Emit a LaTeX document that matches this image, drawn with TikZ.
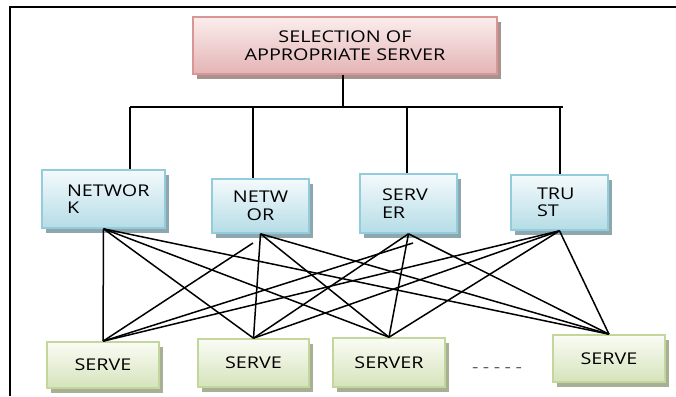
\documentclass[tikz,border=0pt]{standalone}
\usepackage{fontspec}
\setmainfont{Open Sans}[FakeStretch=1.22]
\usetikzlibrary{shadows}
\definecolor{pinkline}{HTML}{D99694}
\definecolor{pinktop}{HTML}{FBEDED}
\definecolor{pinkbot}{HTML}{E4B4B5}
\definecolor{pinkshadow}{HTML}{A8928F}
\definecolor{blueline}{HTML}{93CDDD}
\definecolor{bluetop}{HTML}{F4FAFC}
\definecolor{bluebot}{HTML}{B5DCE6}
\definecolor{blueshadow}{HTML}{8EA6AD}
\definecolor{greenline}{HTML}{C3D69B}
\definecolor{greentop}{HTML}{FAFCF5}
\definecolor{greenbot}{HTML}{D5E3BB}
\definecolor{greenshadow}{HTML}{A7B095}
\tikzset{
  basebox/.style={rectangle, line width=1.6pt, inner sep=0pt,
    font=\fontsize{16.2}{17.5}\selectfont},
  pinkbox/.style={basebox, draw=pinkline, top color=pinktop, bottom color=pinkbot,
    drop shadow={shadow xshift=4pt, shadow yshift=-5pt, fill=pinkshadow, opacity=1}},
  bluebox/.style={basebox, draw=blueline, top color=bluetop, bottom color=bluebot,
    drop shadow={shadow xshift=4pt, shadow yshift=-5pt, fill=blueshadow, opacity=1}},
  greenbox/.style={basebox, draw=greenline, top color=greentop, bottom color=greenbot,
    drop shadow={shadow xshift=4pt, shadow yshift=-5pt, fill=greenshadow, opacity=1}},
  tree/.style={line width=1.6pt, black},
  mesh/.style={line width=1.5pt, black},
  frameline/.style={line width=2.2pt, black}
}
\begin{document}
\begin{tikzpicture}[x=1pt,y=-1pt]
\useasboundingbox (0,0) rectangle (676,396);
\fill[white] (0,0) rectangle (676,396);
% frame
\draw[frameline] (10,396) -- (10,7) -- (676,7);

% nodes
\node[pinkbox, minimum width=304pt, minimum height=57pt, align=center] (top) at (345,45.5)
  {SELECTION OF\\APPROPRIATE SERVER};

\node[bluebox, minimum width=123pt, minimum height=58pt, inner xsep=25pt, text width=73pt, align=left] (n1) at (103.5,199) {NETWOR\\K};
\node[bluebox, minimum width=97pt, minimum height=54pt, align=center] (n2) at (260.5,206) {NETW\\OR};
\node[bluebox, minimum width=97pt, minimum height=59pt, inner xsep=22pt, text width=53pt, align=left] (n3) at (408.5,203.5) {SERV\\ER};
\node[bluebox, minimum width=97pt, minimum height=55pt, inner xsep=26pt, text width=45pt, align=left] (n4) at (559.5,202.5) {TRU\\ST};

\node[greenbox, minimum width=112pt, minimum height=46pt] (s1) at (103,365) {SERVE};
\node[greenbox, minimum width=111pt, minimum height=48pt] (s2) at (253.5,363) {SERVE};
\node[greenbox, minimum width=112pt, minimum height=49pt] (s3) at (389,362.5) {SERVER};
\node[greenbox, minimum width=112pt, minimum height=47pt] (s4) at (609,358.5) {SERVE};

\node[text=black!65, font=\fontsize{16.2}{17.5}\selectfont] (dots) at (497,370)
  {-\kern4.5pt-\kern4.5pt-\kern4.5pt-\kern4.5pt-};

% tree
\coordinate (hub) at (343,107);
\coordinate (k1) at (130,107);
\coordinate (k2) at (253,107);
\coordinate (k3) at (407,107);
\coordinate (k4) at (560,107);
\coordinate (kend) at (563,107);
\draw[tree] (hub |- top.south) -- (hub);
\draw[tree] (k1) -- (kend);
\draw[tree] (k1) -- (k1 |- n1.north);
\draw[tree] (k2) -- (k2 |- n2.north);
\draw[tree] (k3) -- (k3 |- n3.north);
\draw[tree] (k4) -- (k4 |- n4.north);

% mesh
\coordinate (t2a) at (253,243);
\coordinate (t3a) at (413,243);
\foreach \b in {s1,s2,s3,s4} {
  \draw[mesh] (n1.south) -- (\b.north);
  \draw[mesh] (n4.south) -- (\b.north);
}
\foreach \b in {s2,s3,s4} {
  \draw[mesh] (n2.south) -- (\b.north);
  \draw[mesh] (n3.south) -- (\b.north);
}
\draw[mesh] (t2a) -- (s1.north);
\draw[mesh] (t3a) -- (s1.north);
\end{tikzpicture}
\end{document}
